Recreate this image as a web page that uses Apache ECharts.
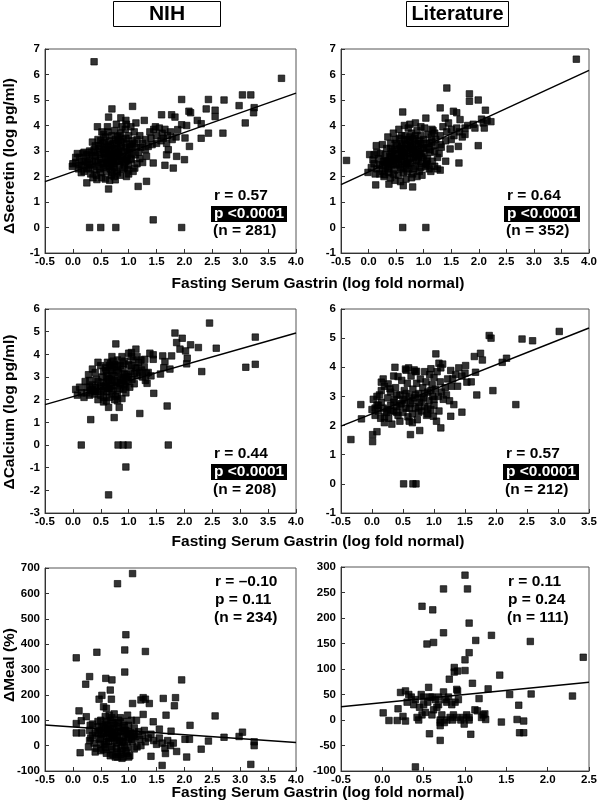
<!DOCTYPE html>
<html>
<head>
<meta charset="utf-8">
<script src="https://cdn.jsdelivr.net/npm/echarts@6/dist/echarts.min.js"></script>
<style>html,body{margin:0;padding:0;background:#fff}#c{width:600px;height:809px}</style>
</head>
<body>
<div id="c"></div>
<script>
// ---------- DATA ----------
const columnTitles = ['NIH', 'Literature'];
const xTitle = 'Fasting Serum Gastrin (log fold normal)';
const yTitles = ['\u0394Secretin (log pg/ml)', '\u0394Calcium (log pg/ml)', '\u0394Meal (%)'];

const nihSecretin = [
[0.38,6.5],[3.74,5.85],[0.3,0],[0.5,0],[0.77,0],[1.44,0.3],[1.95,0],
[0.7,4.65],[0.64,4.33],[1.07,4.75],[0.44,3.95],[0.86,4.3],[0.95,4.2],[1.13,4.1],[1.28,4.2],[1.59,4.42],[1.77,4.42],[1.83,4.33],[1.95,5.02],[2.08,4.56],[2.11,4.5],[1.95,4.03],[2.04,4.0],[2.23,4.2],[2.3,4.07],[2.43,5.02],[2.39,4.65],[2.55,4.6],[2.55,4.35],[2.71,5.0],[2.98,4.78],[3.04,5.2],[3.19,5.2],[3.25,4.7],[3.24,4.5],[3.09,4.1],[2.69,3.7],[2.43,3.7],[2.3,3.5],[2.09,3.18],[2.01,3.51],[1.88,3.84],[2.0,2.66],[1.86,2.79],[1.8,2.33],[1.65,2.44],[1.71,3.05],[1.68,2.85],[1.44,2.53],[1.32,2.79],[1.35,3.18],[1.17,1.61],[1.32,1.81],[1.11,2.33],[0.96,2.0],[0.98,2.27],[0.76,1.87],[0.8,2.14],[0.64,1.51],[0.25,1.75],[0.43,1.88],[-0.01,2.4],
[1.4,3.5],[1.45,3.85],[1.5,3.6],[1.55,3.9],[1.6,3.7],[1.62,3.5],[1.65,3.85],[1.7,3.6],[1.75,3.75],[1.78,3.45],[1.5,3.3],[1.42,3.25],[1.48,3.95],[1.58,3.4],[1.68,3.3],[1.85,3.55],[1.38,3.75],[1.3,3.45],[1.25,3.3],[1.2,3.6],[1.15,3.45],[1.1,3.3],[1.22,3.15],[1.3,3.05],[1.18,2.95],[1.05,2.9],
[0.05,2.55],[0.1,2.3],[0.12,2.75],[0.15,2.45],[0.18,2.9],[0.2,2.2],[0.22,2.6],[0.25,2.85],[0.28,2.35],[0.3,2.7],[0.32,2.1],[0.33,2.95],[0.35,2.5],[0.38,2.25],[0.4,2.8],[0.42,2.05],[0.45,2.55],[0.47,3.1],[0.48,2.3],[0.5,2.7],[0.52,1.95],[0.53,3.3],[0.55,2.45],[0.56,2.9],[0.58,3.55],[0.6,2.2],[0.6,3.15],[0.62,2.65],[0.63,3.75],[0.65,2.4],[0.66,3.4],[0.68,2.85],[0.69,2.05],[0.7,3.6],[0.72,3.05],[0.73,2.5],[0.75,3.8],[0.76,2.75],[0.78,3.3],[0.79,2.2],[0.8,3.55],[0.82,2.95],[0.83,2.45],[0.85,3.2],[0.86,3.7],[0.88,2.7],[0.9,3.45],[0.9,2.3],[0.92,3.0],[0.94,3.85],[0.95,2.6],[0.97,3.3],[0.98,2.85],[1.0,3.6],[1.0,2.45],[1.02,3.1],[1.04,3.95],[1.05,2.65],[1.07,3.4],[1.08,2.2],[1.1,3.75],[1.12,2.85],[0.55,3.65],[0.62,3.95],[0.7,2.15],[0.5,2.15],[0.4,3.2],[0.3,3.0],[0.2,2.95],[0.08,2.9],[0.15,2.15],[0.36,1.95],[0.58,1.9],[0.66,1.85],[0.74,2.0],[0.85,2.05],[0.78,4.05],[0.88,3.95],[0.96,4.05],[0.45,3.45],[0.52,3.75],[0.35,3.35],[0.68,3.2],[0.82,3.4],[0.72,2.6],[0.6,2.95],[0.48,2.85],[0.42,2.4],[0.26,2.55],[0.92,2.55],[1.0,2.1],[1.15,2.5],[1.2,2.7],[1.25,2.55],[1.14,3.15],[1.02,3.25],[0.75,3.1],[0.65,2.55],[0.55,2.35],[0.85,2.8],[0.95,3.15],[0.58,3.05],[0.8,2.6],[0.7,2.9],
[0.45,2.95],[0.5,3.4],[0.55,3.05],[0.6,2.5],[0.63,2.75],[0.65,3.0],[0.67,2.3],[0.7,2.4],[0.72,3.3],[0.75,2.35],[0.78,2.9],[0.8,3.05],[0.83,3.6],[0.87,3.1],[0.9,2.8],[0.93,2.35],[0.95,3.5],[0.97,2.65],[1.0,2.95],[1.03,2.7],[1.06,3.15],[0.4,2.6],[0.35,2.8],[0.3,2.45],[0.25,2.3],[0.18,2.6],[0.12,2.45],[0.05,2.75],[0.0,2.5],[0.53,2.55],[0.58,2.75],[0.68,2.65],[0.74,2.8],[0.84,2.6],[0.64,3.25],[0.76,3.45],[0.86,3.35],[0.56,3.35],[0.46,3.2],[0.38,3.05]
];
const litSecretin = [
[3.77,6.6],[-0.4,2.63],[0.62,0],[1.04,0],
[1.42,5.47],[1.83,5.24],[1.83,4.95],[1.99,5.0],[2.12,4.6],[2.05,4.25],[1.93,3.9],[1.99,3.21],[1.64,2.53],[1.48,3.08],[1.63,3.18],[1.3,4.69],[1.54,4.56],[1.6,4.5],[1.66,4.23],[1.75,3.9],[1.39,4.29],[1.04,4.29],[0.62,4.53],[-0.01,2.16],[0.14,3.21],[0.13,1.67],[0.37,1.7],[0.63,1.64],[0.8,1.59],[0.02,2.86],[0.29,2.07],
[1.15,3.85],[1.2,3.7],[1.3,3.6],[1.35,3.95],[1.42,3.75],[1.45,4.1],[1.5,3.85],[1.55,3.6],[1.6,3.9],[1.65,3.75],[1.7,3.55],[1.75,3.65],[1.8,4.0],[1.9,4.05],[2.08,4.1],[2.15,4.2],[2.22,4.15],[2.1,3.9],[1.4,3.4],[1.3,3.25],[1.5,3.45],[1.25,2.3],[1.3,2.25],[1.2,2.4],[1.4,2.6],[1.1,2.3],[1.05,2.5],
[0.1,2.5],[0.15,2.3],[0.18,2.7],[0.2,2.45],[0.22,2.9],[0.25,2.2],[0.27,2.6],[0.3,2.85],[0.3,2.35],[0.33,3.1],[0.35,2.55],[0.37,2.15],[0.38,2.8],[0.4,3.3],[0.42,2.45],[0.43,3.0],[0.45,2.7],[0.47,2.25],[0.48,3.45],[0.5,2.9],[0.5,2.5],[0.52,3.2],[0.54,2.05],[0.55,2.7],[0.56,3.5],[0.58,2.35],[0.6,3.0],[0.6,2.6],[0.62,3.3],[0.63,2.15],[0.65,2.8],[0.66,3.6],[0.68,2.45],[0.7,3.1],[0.7,2.7],[0.72,3.9],[0.73,2.3],[0.75,3.4],[0.75,2.9],[0.77,2.55],[0.78,3.7],[0.8,3.2],[0.8,2.1],[0.82,2.75],[0.83,3.5],[0.85,2.4],[0.86,3.0],[0.88,3.8],[0.9,2.6],[0.9,3.3],[0.92,2.2],[0.93,2.9],[0.95,3.6],[0.96,2.5],[0.98,3.15],[1.0,2.8],[1.0,3.45],[1.02,3.9],[1.03,2.4],[1.05,3.1],[1.07,2.7],[1.08,3.65],[1.1,3.3],[1.12,2.95],[1.14,3.55],[1.16,2.6],[1.18,3.2],[1.2,3.0],[0.45,3.7],[0.55,3.85],[0.65,4.0],[0.75,4.05],[0.85,4.1],[0.95,3.95],[0.35,3.55],[0.25,3.25],[0.15,2.95],[0.05,2.35],[0.08,2.65],[0.12,2.1],[0.28,2.0],[0.4,1.95],[0.48,1.85],[0.58,1.8],[0.68,1.9],[0.78,1.95],[0.88,2.0],[0.97,2.05],[0.62,2.95],[0.72,2.5],[0.82,3.05],[0.92,3.4],[0.52,2.65],[0.42,2.9],[0.32,2.6],[0.67,3.25],[0.77,3.15],[0.87,2.65],[0.57,3.1],[0.47,3.05],[0.37,2.4],[0.97,2.75],[1.07,2.45],[1.13,2.2],[1.17,3.8],[1.22,3.45],[1.28,2.9],[1.32,3.15],[1.25,2.75],[0.2,2.1],[0.1,2.85],[0.4,2.6],[0.7,3.45],
[0.4,2.75],[0.45,2.5],[0.5,2.7],[0.55,2.9],[0.55,2.45],[0.6,2.8],[0.6,3.2],[0.65,2.6],[0.65,3.05],[0.7,2.9],[0.7,2.5],[0.75,2.7],[0.75,3.2],[0.8,2.95],[0.8,3.45],[0.85,2.85],[0.85,3.25],[0.9,3.05],[0.9,2.8],[0.95,3.3],[0.95,2.9],[1.0,3.1],[1.05,3.3],[1.1,3.05],[0.35,2.3],[0.3,2.6],[0.25,2.45],[0.45,2.1],[0.6,2.3],[0.7,2.2],[0.82,2.3],[0.65,3.45],[0.75,3.55],[0.85,3.6],[0.6,3.6],[0.5,3.3],[1.15,3.35],[1.05,2.6],[0.95,2.35],[0.4,3.1]
];
const nihCalcium = [
[0.15,0],[0.32,1.12],[0.64,-2.2],[0.95,-0.97],[0.81,0],[0.9,0],[0.99,0],[1.71,0],[1.2,1.39],[1.69,1.72],[1.45,2.28],[0.74,1.21],[0.64,1.66],[0.83,1.66],
[2.45,5.38],[1.83,4.94],[1.96,4.71],[1.86,4.52],[1.92,4.23],[2.02,4.15],[2.11,4.42],[2.25,4.3],[2.57,4.27],[3.27,4.76],[3.1,3.43],[3.27,3.56],[2.31,3.24],[2.04,3.58],[2.05,3.83],[1.77,3.93],[1.61,3.93],[1.65,3.68],[1.74,3.35],[1.57,3.13],[1.63,3.41],[1.44,3.78],[1.38,4.05],[1.44,3.98],[1.13,4.23],[1.05,4.08],[0.77,4.46],[1.32,3.16],[1.33,2.72],[1.23,3.31],[1.29,3.78],
[0.05,2.45],[0.08,2.2],[0.15,2.3],[0.2,2.1],[0.25,2.55],[0.3,2.85],[0.32,2.4],[0.35,2.65],[0.38,2.25],[0.4,3.2],[0.42,2.9],[0.45,2.0],[0.45,3.65],[0.48,2.5],[0.5,2.2],[0.52,3.0],[0.55,1.9],[0.55,2.75],[0.58,3.4],[0.6,2.35],[0.62,3.65],[0.63,2.95],[0.65,2.1],[0.67,2.6],[0.68,3.3],[0.7,3.9],[0.72,2.4],[0.73,3.05],[0.75,2.0],[0.75,3.55],[0.78,2.75],[0.8,3.75],[0.8,2.25],[0.82,3.2],[0.84,2.5],[0.85,3.5],[0.87,2.9],[0.88,2.05],[0.9,3.35],[0.92,2.65],[0.93,3.7],[0.95,2.3],[0.97,3.1],[0.98,2.8],[1.0,3.55],[1.0,4.05],[1.02,2.55],[1.04,3.25],[1.06,2.9],[1.08,3.75],[1.1,2.7],[1.12,3.4],[1.15,3.05],[1.18,3.65],[1.2,3.2],[1.25,3.0],[1.28,3.45],[1.3,2.85],[0.35,3.35],[0.28,3.1],[0.22,2.8],[0.5,3.5],[0.6,3.05],[0.7,2.85],[0.9,2.45],[0.65,2.5],[0.4,2.55],[0.58,2.6],[0.77,2.15],[0.85,2.7],[0.95,3.0],[0.55,3.25],[0.45,2.35],[0.68,3.6],[0.88,3.9],[0.72,3.45],[1.05,3.9],[1.15,3.9],[1.22,3.75],[1.35,3.2],[1.4,3.05],[0.6,1.95],[0.8,1.95],[0.3,2.2],[0.12,2.55],
[0.5,2.6],[0.55,2.4],[0.6,2.75],[0.62,2.5],[0.65,2.9],[0.7,2.6],[0.7,3.15],[0.75,2.85],[0.78,3.3],[0.8,2.6],[0.85,3.0],[0.9,2.85],[0.92,3.15],[0.95,2.6],[1.0,3.0],[1.05,3.5],[1.1,3.15],[1.15,3.4],[0.45,2.8],[0.4,2.35],[0.35,2.45],[0.3,2.55],[0.25,2.3],[0.6,3.3],[0.65,3.5],[0.72,3.7],[0.8,3.45],[0.9,3.6],[0.55,2.1],[0.7,2.25]
];
const litCalcium = [
[-0.34,1.52],[-0.17,2.23],[-0.18,2.72],[0.01,1.45],[0.01,1.69],[0.08,1.79],[0.51,0],[0.66,0],[0.71,0],[0.62,1.69],[0.77,1.83],[1.11,1.92],[0.99,2.32],[1.27,2.32],[1.45,2.46],[1.32,2.72],[1.38,3.35],[1.53,3.49],[1.69,3.05],[1.95,3.2],[2.32,2.72],[1.75,4.48],[1.65,4.37],[1.78,4.25],[1.67,3.83],[1.89,5.09],[1.92,5.0],[2.42,4.97],[2.59,4.91],[3.02,5.23],[2.1,4.17],[2.17,4.31],[1.51,4.06],[1.4,3.98],[1.27,3.89],[1.14,4.11],[1.11,3.98],[1.03,4.46],[1.08,4.14],
[0.37,4.0],[0.42,3.68],[0.54,3.94],[0.59,3.98],[0.68,3.91],[0.72,3.86],[0.18,3.6],[0.15,3.49],[0.26,3.43],[0.29,3.26],
[0.0,2.55],[0.02,2.9],[0.05,2.35],[0.08,2.7],[0.1,2.5],[0.12,3.05],[0.14,2.25],[0.15,2.8],[0.18,2.6],[0.2,3.35],[0.2,2.1],[0.23,2.45],[0.25,2.95],[0.27,2.25],[0.3,2.7],[0.3,3.15],[0.32,2.05],[0.35,2.5],[0.36,2.9],[0.38,3.3],[0.4,2.65],[0.42,2.35],[0.45,3.05],[0.47,2.75],[0.48,3.55],[0.5,2.45],[0.52,3.2],[0.53,2.85],[0.55,2.6],[0.57,3.45],[0.58,2.3],[0.6,3.0],[0.62,2.75],[0.63,3.7],[0.65,2.4],[0.66,3.25],[0.68,2.95],[0.7,2.6],[0.72,3.45],[0.73,2.2],[0.75,3.1],[0.77,2.8],[0.78,3.6],[0.8,2.5],[0.82,3.3],[0.83,2.95],[0.85,2.65],[0.87,3.5],[0.88,2.35],[0.9,3.15],[0.92,2.85],[0.93,3.75],[0.95,2.55],[0.97,3.4],[0.98,3.0],[1.0,3.65],[1.0,2.7],[1.02,3.25],[1.04,2.15],[1.05,3.85],[1.07,3.0],[1.08,2.5],[1.1,3.5],[1.12,3.15],[1.15,2.9],[1.18,3.3],[1.2,3.05],[1.25,2.85],[1.22,3.6],[0.25,2.55],[0.4,3.05],[0.55,3.9],[0.7,3.85],[0.85,3.85],[0.95,3.95],[0.6,2.15],[0.45,2.15],[0.35,3.7],[0.15,3.2],[0.08,3.0],[0.75,2.45],[0.9,2.6],[0.65,2.1],[1.3,3.6],[1.35,3.75],[1.45,3.7],[1.5,3.8],[1.6,3.5],[1.28,3.35],
[0.3,2.5],[0.35,2.8],[0.4,2.45],[0.45,2.7],[0.5,2.9],[0.55,3.1],[0.6,2.6],[0.65,2.85],[0.7,3.05],[0.75,2.65],[0.8,2.9],[0.85,3.1],[0.9,2.4],[0.95,3.2],[1.0,2.9],[0.1,2.7],[0.2,2.3],[0.05,2.6]
];
const nihMeal = [
[1.07,678],[0.8,638],[0.95,437],[0.93,377],[1.3,371],[0.43,368],[0.06,346],[0.93,290],[0.3,272],[0.59,265],[0.7,259],[0.23,242],[1.95,259],[0.67,219],[0.52,198],[0.47,183],[0.69,183],[0.55,153],[0.6,147],[1.07,166],[1.22,180],[1.26,189],[1.3,183],[1.37,166],[1.62,186],[1.84,189],[1.82,157],[1.67,120],[1.26,123],[1.44,94],[0.11,137],[0.24,114],[0.15,98],[0.06,87],[0.06,50],[0.16,50],[0.31,80],[2.55,117],[2.1,80],[2.01,25],[2.09,25],[2.04,-45],[1.6,-78],[1.4,-42],[1.55,65],[1.76,57],[1.86,-23],[1.66,-31],[2.3,-14],[2.43,18],[2.71,33],[2.98,36],[3.04,53],[3.19,-74],[3.25,15],[3.25,0],[1.1,-13],[0.13,-28],
[0.3,60],[0.32,30],[0.35,85],[0.38,10],[0.4,50],[0.42,-10],[0.45,75],[0.47,25],[0.5,100],[0.5,-20],[0.52,45],[0.55,70],[0.56,5],[0.58,115],[0.6,35],[0.6,-30],[0.62,80],[0.64,15],[0.65,55],[0.67,-40],[0.68,100],[0.7,30],[0.7,-5],[0.72,70],[0.74,125],[0.75,45],[0.76,-45],[0.78,10],[0.8,90],[0.8,-25],[0.82,55],[0.83,20],[0.85,110],[0.86,-10],[0.88,70],[0.9,35],[0.9,-45],[0.92,95],[0.93,0],[0.95,60],[0.97,-30],[0.98,120],[1.0,25],[1.0,80],[1.02,-40],[1.04,50],[1.05,100],[1.07,15],[1.1,70],[1.12,35],[1.15,-5],[1.18,55],[1.2,25],[1.22,0],[1.25,40],[1.3,15],[1.35,30],[1.4,45],[1.45,20],[1.5,5],[1.55,30],[1.6,10],[1.65,-10],[1.7,20],[1.75,0],[1.8,10],[0.28,-5],[0.3,20],[0.35,40],[0.45,95],[0.55,-15],[0.65,120],[0.7,110],[0.75,80],[0.85,-35],[0.95,-20],[0.62,50],[0.72,40],[0.82,75],[0.92,60],[0.48,60],[0.58,85],[0.68,65],[0.78,35],[0.88,15],[0.98,45],[1.08,40],[1.28,60],[1.14,100],[0.4,-25],[0.5,5],[0.6,95],[0.8,-45],[1.0,-45],[0.72,-35],[0.88,-50],
[0.5,30],[0.55,50],[0.6,15],[0.65,30],[0.7,50],[0.75,20],[0.8,40],[0.85,55],[0.9,15],[0.95,30],[1.0,55],[1.05,25],[0.58,-5],[0.68,-15],[0.78,-10],[0.88,-20],[0.98,-5],[0.62,65],[0.82,100],[0.92,80],[0.45,50],[0.52,75],[0.72,90],[1.1,45]
];
const litMeal = [
[1.0,284],[1.03,257],[0.74,257],[0.48,223],[0.61,216],[1.05,190],[0.74,171],[1.13,156],[1.32,166],[1.79,154],[0.54,149],[0.62,152],[1.05,132],[1.0,118],[2.43,123],[1.0,97],[0.87,103],[0.87,94],[0.81,80],[0.91,96],[1.42,88],[1.09,72],[1.28,61],[0.91,57],[1.8,51],[1.54,50],[2.3,47],[1.17,42],[0.56,64],[0.22,54],[0.28,57],[0.01,14],[0.08,-1],[0.19,22],[0.25,7],[0.18,-1],[0.28,-2],[1.65,29],[1.63,1],[1.71,-2],[1.44,-4],[1.66,-25],[1.71,-25],[1.07,-28],[0.57,-27],[0.7,-40],[0.4,-92],[0.99,-8],[0.7,-11],[1.05,0],[1.24,12],[1.25,1],[1.15,18],
[0.3,35],[0.32,50],[0.35,45],[0.38,30],[0.4,40],[0.42,5],[0.44,0],[0.45,25],[0.47,50],[0.48,10],[0.5,45],[0.52,15],[0.55,35],[0.58,45],[0.6,10],[0.62,20],[0.64,40],[0.66,25],[0.68,45],[0.7,0],[0.72,10],[0.74,55],[0.75,-5],[0.76,40],[0.78,0],[0.8,45],[0.82,5],[0.84,30],[0.86,10],[0.88,35],[0.9,5],[0.92,40],[0.95,0],[0.98,5],[1.02,10],[1.05,5],[1.12,20],[1.2,5],[1.22,10],[0.68,30],[0.5,30],[0.78,35],[0.9,60],[0.6,45],[0.7,-5],[0.85,0]
];

// regression line end points
const fitNihSecretin = [[-0.5,1.8],[4.0,5.27]];
const fitLitSecretin = [[-0.5,1.68],[4.0,6.16]];
const fitNihCalcium = [[-0.5,1.78],[4.0,4.94]];
const fitLitCalcium = [[-0.5,1.98],[3.5,5.35]];
const fitNihMeal = [[-0.5,81],[4.0,12]];
const fitLitMeal = [[-0.5,26],[2.5,74]];

// statistics text
const statR = ['r = 0.57','r = 0.64','r = 0.44','r = 0.57','r = \u20130.10','r = 0.11'];
const statP = ['p <0.0001','p <0.0001','p <0.0001','p <0.0001','p = 0.11','p = 0.24'];
const statN = ['(n = 281)','(n = 352)','(n = 208)','(n = 212)','(n = 234)','(n = 111)'];

// axis ranges [min, max, interval]
const xRanges = [[-0.5,4.0,0.5],[-0.5,4.0,0.5],[-0.5,4.0,0.5],[-0.5,3.5,0.5],[-0.5,4.0,0.5],[-0.5,2.5,0.5]];
const yRanges = [[-1,7,1],[-1,7,1],[-3,6,1],[-1,6,1],[-100,700,100],[-100,300,50]];

// ---------- LAYOUT ----------
const FONT = "'Liberation Sans', Arial, Helvetica, sans-serif";
const grids = [
  {left:45, top:49, width:251, height:204},
  {left:341, top:49, width:251, height:204},
  {left:45, top:309, width:251, height:204},
  {left:341, top:309, width:251, height:204},
  {left:45, top:568, width:251, height:203},
  {left:341, top:567, width:251, height:204}
];
const scatterData = [nihSecretin, litSecretin, nihCalcium, litCalcium, nihMeal, litMeal];
const fits = [fitNihSecretin, fitLitSecretin, fitNihCalcium, fitLitCalcium, fitNihMeal, fitLitMeal];

const lbl = {fontFamily:FONT, fontWeight:'bold', fontSize:11.5, color:'#000'};
const xAxes = xRanges.map((r,i)=>({
  type:'value', gridIndex:i, min:r[0], max:r[1], interval:r[2],
  axisLine:{show:true, onZero:false, lineStyle:{color:'#333', width:1}},
  axisTick:{show:true, inside:true, length:4, lineStyle:{color:'#333'}},
  axisLabel:Object.assign({margin:3, formatter:v=>v.toFixed(1), showMinLabel:true, showMaxLabel:true}, lbl),
  splitLine:{show:false}
}));
const yAxes = yRanges.map((r,i)=>({
  type:'value', gridIndex:i, min:r[0], max:r[1], interval:r[2],
  axisLine:{show:true, onZero:false, lineStyle:{color:'#333', width:1}},
  axisTick:{show:true, inside:true, length:4, lineStyle:{color:'#333'}},
  axisLabel:Object.assign({margin:5, showMinLabel:true, showMaxLabel:true}, lbl),
  splitLine:{show:false}
}));

const series = [];
scatterData.forEach((d,i)=>{
  series.push({type:'scatter', xAxisIndex:i, yAxisIndex:i, data:d, symbol:'rect', symbolSize:6.5,
    itemStyle:{color:'#000', borderColor:'#000', borderWidth:0.8}, silent:true, animation:false});
  series.push({type:'line', xAxisIndex:i, yAxisIndex:i, data:fits[i], symbol:'none',
    lineStyle:{color:'#000', width:1.5}, silent:true, animation:false, z:3});
});

// graphics
const g = [];
const tfont = (s)=>'bold '+s+'px '+FONT;
// column titles
g.push({type:'rect', shape:{x:113.5, y:1.5, width:107, height:25}, style:{fill:'#fff', stroke:'#000', lineWidth:1}});
g.push({type:'text', x:167, y:14, style:{text:columnTitles[0], font:tfont(21), fill:'#000', textAlign:'center', textVerticalAlign:'middle'}});
g.push({type:'rect', shape:{x:406.5, y:1.5, width:102, height:25}, style:{fill:'#fff', stroke:'#000', lineWidth:1}});
g.push({type:'text', x:457.5, y:14, style:{text:columnTitles[1], font:tfont(20), fill:'#000', textAlign:'center', textVerticalAlign:'middle'}});
// x titles
[284, 542, 793].forEach(y=>{
  g.push({type:'text', x:318, y:y, style:{text:xTitle, font:tfont(15.5), fill:'#000', textAlign:'center', textVerticalAlign:'middle'}});
});
// y titles
[[156,0],[412,1],[665,2]].forEach(([y,k])=>{
  g.push({type:'text', x:10, y:y, rotation:Math.PI/2, style:{text:yTitles[k], font:tfont(15.5), fill:'#000', textAlign:'center', textVerticalAlign:'middle'}});
});
// stats
const statPos = [
  {x:214, r:196, p:214, n:231, box:true},
  {x:507, r:196, p:214, n:231, box:true},
  {x:214, r:454, p:472, n:490, box:true},
  {x:506, r:454, p:472, n:490, box:true},
  {x:215, r:582, p:600, n:618, box:false},
  {x:508, r:582, p:600, n:618, box:false}
];
statPos.forEach((s,i)=>{
  g.push({type:'text', x:s.x, y:s.r, style:{text:statR[i], font:tfont(15.5), fill:'#000', textVerticalAlign:'middle'}});
  if (s.box) {
    g.push({type:'rect', shape:{x:s.x-3, y:s.p-8, width:76, height:16}, style:{fill:'#000'}});
    g.push({type:'text', x:s.x, y:s.p, style:{text:statP[i], font:tfont(15.5), fill:'#fff', textVerticalAlign:'middle'}});
  } else {
    g.push({type:'text', x:s.x, y:s.p, style:{text:statP[i], font:tfont(15.5), fill:'#000', textVerticalAlign:'middle'}});
  }
  g.push({type:'text', x:s.x-1, y:s.n, style:{text:statN[i], font:tfont(15.5), fill:'#000', textVerticalAlign:'middle'}});
});

const chart = echarts.init(document.getElementById('c'), null, {renderer:'canvas'});
chart.setOption({
  animation:false,
  backgroundColor:'#fff',
  grid: grids.map(gr=>Object.assign({show:true, borderColor:'#555', borderWidth:1, backgroundColor:'transparent'}, gr)),
  xAxis:xAxes,
  yAxis:yAxes,
  series:series,
  graphic:{elements:g}
});
</script>
</body>
</html>
